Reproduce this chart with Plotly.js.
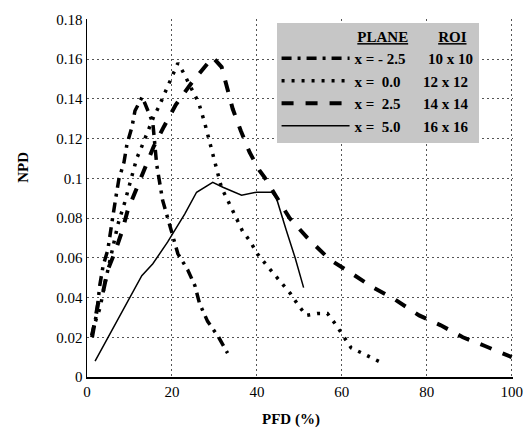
<!DOCTYPE html>
<html>
<head>
<meta charset="utf-8">
<script src="https://cdn.plot.ly/plotly-3.0.1.min.js"></script>
<style>
html,body{margin:0;padding:0;background:#fff;}
#chart{width:523px;height:433px;}
</style>
</head>
<body>
<div id="chart"></div>
<script>
// Series: PLANE x = -2.5, ROI 10 x 10 (dash-dot)
var pfdA = [1.1, 2.3, 3.0, 3.8, 4.9, 5.4, 6.1, 6.8, 7.5, 8.7, 9.4, 10.6, 11.3, 13.0, 15.5, 16.4, 17.1, 17.8, 19.0, 21.4, 23.7, 25.4, 26.5, 28.4, 31.0, 33.1];
var npdA = [0.021, 0.032, 0.046, 0.056, 0.064, 0.072, 0.081, 0.0905, 0.0995, 0.108, 0.117, 0.126, 0.134, 0.141, 0.128, 0.107, 0.097, 0.089, 0.080, 0.062, 0.054, 0.046, 0.037, 0.028, 0.020, 0.012];

// Series: PLANE x = 0.0, ROI 12 x 12 (dotted)
var pfdB = [2.0, 3.1, 4.0, 5.5, 6.6, 7.3, 8.9, 9.6, 11.0, 11.7, 12.7, 13.6, 15.7, 16.9, 18.1, 20.2, 21.4, 22.5, 24.9, 26.3, 27.7, 29.1, 30.3, 31.7, 32.9, 34.0, 35.4, 36.6, 38.5, 40.1, 42.0, 43.9, 45.8, 47.9, 49.8, 51.6, 54.2, 56.6, 58.7, 60.6, 62.2, 64.8, 67.4, 70.0];
var npdB = [0.028, 0.035, 0.045, 0.060, 0.072, 0.077, 0.088, 0.0935, 0.104, 0.110, 0.115, 0.120, 0.131, 0.136, 0.142, 0.153, 0.158, 0.154, 0.144, 0.138, 0.128, 0.117, 0.106, 0.095, 0.090, 0.085, 0.079, 0.0735, 0.068, 0.062, 0.057, 0.052, 0.047, 0.042, 0.036, 0.031, 0.032, 0.032, 0.026, 0.020, 0.0146, 0.012, 0.009, 0.0065];

// Series: PLANE x = 2.5, ROI 14 x 14 (dashed)
var pfdC = [1.2, 2.6, 3.8, 4.9, 6.6, 8.2, 9.6, 11.7, 13.8, 15.7, 18.1, 20.9, 24.6, 29.6, 31.7, 33.1, 34.3, 36.2, 38.3, 40.6, 41.8, 44.5, 47.7, 51.9, 57.2, 62.4, 67.4, 72.5, 78.2, 83.3, 88.5, 93.7, 100.0];
var npdC = [0.020, 0.037, 0.043, 0.054, 0.063, 0.073, 0.084, 0.095, 0.105, 0.116, 0.126, 0.137, 0.148, 0.161, 0.156, 0.144, 0.135, 0.124, 0.113, 0.104, 0.1005, 0.091, 0.080, 0.070, 0.059, 0.052, 0.045, 0.039, 0.031, 0.026, 0.020, 0.0156, 0.010];

// Series: PLANE x = 5.0, ROI 16 x 16 (solid)
var pfdD = [1.9, 4.7, 8.0, 12.9, 15.5, 19.0, 23.0, 25.8, 29.6, 32.0, 36.4, 39.9, 43.5, 44.6, 46.9, 49.0, 51.0];
var npdD = [0.008, 0.019, 0.032, 0.051, 0.057, 0.068, 0.082, 0.093, 0.098, 0.0955, 0.0915, 0.093, 0.093, 0.090, 0.074, 0.060, 0.045];

var planes = ['x = - 2.5', 'x =  0.0', 'x =  2.5', 'x =  5.0'];
var rois = ['10 x 10', '12 x 12', '14 x 14', '16 x 16'];

var xTicks = [0, 20, 40, 60, 80, 100];
var yTicks = [0, 0.02, 0.04, 0.06, 0.08, 0.1, 0.12, 0.14, 0.16, 0.18];

var NB = '\u00a0';
function sp(n){ return new Array(n + 1).join(NB); }
function nm(i){
  return '<b>' + planes[i].replace(/ /g, NB) + sp(6) + rois[i].replace(/ /g, NB) + '</b>';
}

var traces = [
  {x: pfdA, y: npdA, mode: 'lines', name: nm(0), line: {color: '#000', width: 3.5, dash: '10px,6px,3px,6px'}},
  {x: pfdB, y: npdB, mode: 'lines', name: nm(1), line: {color: '#000', width: 3.5, dash: '3px,7px'}},
  {x: pfdC, y: npdC, mode: 'lines', name: nm(2), line: {color: '#000', width: 4, dash: '12px,12px'}},
  {x: pfdD, y: npdD, mode: 'lines', name: nm(3), line: {color: '#000', width: 1.5}}
];

var fam = 'Times New Roman';

var layout = {
  width: 523, height: 433,
  margin: {l: 87, r: 10, t: 19, b: 56},
  paper_bgcolor: '#fff', plot_bgcolor: '#fff',
  font: {family: fam, color: '#000', size: 14},
  showlegend: true,
  legend: {
    x: 0.445, y: 0.99, xanchor: 'left', yanchor: 'top',
    bgcolor: '#c6c6c6', borderwidth: 0,
    font: {family: fam, size: 15, color: '#000'},
    title: {text: '<b>' + sp(21) + '<u>PLANE</u>' + sp(8) + '<u>ROI</u></b>', font: {family: fam, size: 15, color: '#000'}},
    tracegroupgap: 0,
    itemwidth: 68
  },
  xaxis: {
    range: [0, 100.3], tickvals: xTicks, ticktext: xTicks.map(String),
    showline: true, linecolor: '#000', linewidth: 1.5,
    showgrid: true, gridcolor: '#555', gridwidth: 1, griddash: '2px,3px',
    zeroline: false, ticks: '', tickfont: {family: fam, size: 15, color: '#000'},
    title: {text: ''}
  },
  yaxis: {
    range: [0, 0.1802], tickvals: yTicks, ticktext: yTicks.map(function(v){ return String(v); }),
    showline: true, linecolor: '#000', linewidth: 1.5,
    showgrid: true, gridcolor: '#555', gridwidth: 1, griddash: '2px,3px',
    zeroline: false, ticks: '', tickfont: {family: fam, size: 15, color: '#000'},
    title: {text: ''}
  },
  annotations: [
    {text: '<b>NPD</b>', xref: 'paper', yref: 'paper', x: -0.152, y: 0.585, xanchor: 'center', yanchor: 'middle', textangle: -90, showarrow: false, font: {family: fam, size: 15, color: '#000'}},
    {text: '<b>PFD (%)</b>', xref: 'paper', yref: 'paper', x: 0.48, y: -0.12, xanchor: 'center', yanchor: 'middle', showarrow: false, font: {family: fam, size: 15, color: '#000'}}
  ]
};

Plotly.newPlot('chart', traces, layout, {staticPlot: true, displayModeBar: false});
</script>
</body>
</html>
